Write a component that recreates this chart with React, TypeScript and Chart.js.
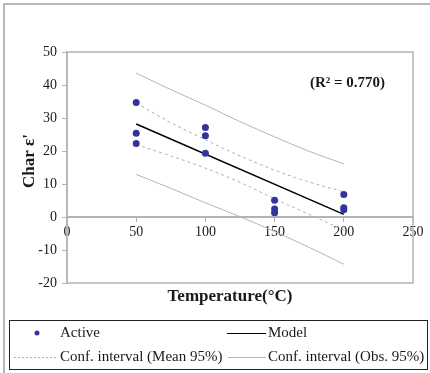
import React, { useEffect, useRef } from "react";
import { Chart, registerables } from "chart.js";
Chart.register(...registerables);

const temperatures = [50, 50, 50, 100, 100, 100, 150, 150, 150, 200, 200, 200];
const charValues = [34.7, 25.4, 22.3, 27.1, 24.6, 19.3, 5.1, 2.4, 1.3, 6.8, 2.8, 2.2];
const modelX = [50, 200];
const modelY = [28.2, 0.8];
const ciX = [50, 75, 100, 125, 150, 175, 200];
const meanUpper = [34.5, 28.6, 23.4, 18.5, 14.2, 10.6, 7.6];
const meanLower = [21.9, 18.5, 14.8, 10.5, 5.5, 0.8, -4.0];
const obsUpper = [43.6, 38.6, 33.9, 28.9, 24.3, 19.9, 16.1];
const obsLower = [12.9, 8.7, 4.3, 0.1, -4.4, -9.2, -14.3];
const xTickValues = [0, 50, 100, 150, 200, 250];
const yTickValues = [-20, -10, 0, 10, 20, 30, 40, 50];
const xTitle = "Temperature(°C)";
const yTitle = "Char ε'";
const r2Label = "(R² = 0.770)";
const legendLabels = ["Active", "Model", "Conf. interval (Mean 95%)", "Conf. interval (Obs. 95%)"];

const SERIF = "'Liberation Serif', 'Times New Roman', serif";
const DOT = "#333399";
const GRAY = "#b4b4b4";
const DASHGRAY = "#b0b0b0";

const pts = (xs: number[], ys: number[]) => xs.map((x, i) => ({ x, y: ys[i] }));

const decor = {
  id: "decor",
  afterDraw(chart: any) {
    const ctx = chart.ctx as CanvasRenderingContext2D;
    const a = chart.chartArea;
    ctx.save();
    // outer frame
    ctx.strokeStyle = "#b8b8b8";
    ctx.lineWidth = 2;
    ctx.strokeRect(4, 4, 440, 400);
    // plot box
    ctx.strokeStyle = GRAY;
    ctx.lineWidth = 1.5;
    ctx.strokeRect(a.left, a.top, a.right - a.left, a.bottom - a.top);
    // texts
    ctx.fillStyle = "#1a1a1a";
    ctx.font = `bold 15px ${SERIF}`;
    ctx.textBaseline = "middle";
    ctx.textAlign = "left";
    ctx.fillText(r2Label, 310, 83);
    ctx.font = `bold 17px ${SERIF}`;
    ctx.textAlign = "center";
    ctx.fillText(xTitle, 230, 297);
    ctx.save();
    ctx.translate(30, 161);
    ctx.rotate(-Math.PI / 2);
    ctx.fillText(yTitle, 0, 0);
    ctx.restore();
    // legend
    ctx.strokeStyle = "#222";
    ctx.lineWidth = 1;
    ctx.strokeRect(9.5, 320.5, 418, 49);
    ctx.font = `15px ${SERIF}`;
    ctx.textAlign = "left";
    const r1 = 333, r2 = 357;
    ctx.fillStyle = DOT;
    ctx.beginPath();
    ctx.arc(37, r1, 2.5, 0, Math.PI * 2);
    ctx.fill();
    ctx.fillStyle = "#1a1a1a";
    ctx.fillText(legendLabels[0], 60, r1);
    ctx.strokeStyle = "#000";
    ctx.lineWidth = 1.2;
    ctx.beginPath();
    ctx.moveTo(227, r1 + 0.5);
    ctx.lineTo(266, r1 + 0.5);
    ctx.stroke();
    ctx.fillText(legendLabels[1], 268, r1);
    ctx.strokeStyle = DASHGRAY;
    ctx.lineWidth = 1;
    ctx.setLineDash([2, 2]);
    ctx.beginPath();
    ctx.moveTo(14, r2 + 0.5);
    ctx.lineTo(57, r2 + 0.5);
    ctx.stroke();
    ctx.setLineDash([]);
    ctx.fillText(legendLabels[2], 60, r2);
    ctx.strokeStyle = GRAY;
    ctx.beginPath();
    ctx.moveTo(228, r2 + 0.5);
    ctx.lineTo(266, r2 + 0.5);
    ctx.stroke();
    ctx.fillText(legendLabels[3], 268, r2);
    ctx.restore();
  },
};

export default function App() {
  const ref = useRef<HTMLCanvasElement | null>(null);
  useEffect(() => {
    if (!ref.current) return;
    const chart = new Chart(ref.current, {
      type: "scatter",
      data: {
        datasets: [
          {
            label: legendLabels[0],
            data: pts(temperatures, charValues),
            backgroundColor: DOT,
            borderColor: DOT,
            pointRadius: 3.5,
            pointBorderWidth: 0,
          },
          {
            label: legendLabels[1],
            data: pts(modelX, modelY),
            showLine: true,
            borderColor: "#000",
            borderWidth: 1.5,
            pointRadius: 0,
          },
          {
            label: "meanUpper",
            data: pts(ciX, meanUpper),
            showLine: true,
            borderColor: DASHGRAY,
            borderWidth: 1,
            borderDash: [3, 3],
            cubicInterpolationMode: "monotone",
            pointRadius: 0,
          },
          {
            label: "meanLower",
            data: pts(ciX, meanLower),
            showLine: true,
            borderColor: DASHGRAY,
            borderWidth: 1,
            borderDash: [3, 3],
            cubicInterpolationMode: "monotone",
            pointRadius: 0,
          },
          {
            label: "obsUpper",
            data: pts(ciX, obsUpper),
            showLine: true,
            borderColor: GRAY,
            borderWidth: 1,
            cubicInterpolationMode: "monotone",
            pointRadius: 0,
          },
          {
            label: "obsLower",
            data: pts(ciX, obsLower),
            showLine: true,
            borderColor: GRAY,
            borderWidth: 1,
            cubicInterpolationMode: "monotone",
            pointRadius: 0,
          },
        ],
      },
      options: {
        animation: false,
        responsive: false,
        devicePixelRatio: 1,
        layout: { padding: { left: 0, top: 52, right: 17, bottom: 90 } },
        plugins: { legend: { display: false }, tooltip: { enabled: false } },
        scales: {
          x: {
            type: "linear",
            min: 0,
            max: 250,
            position: { y: 0 } as any,
            afterBuildTicks: (s: any) => {
              s.ticks = xTickValues.map((v) => ({ value: v }));
            },
            ticks: {
              autoSkip: false,
              maxRotation: 0,
              padding: 3,
              color: "#1a1a1a",
              font: { family: SERIF, size: 14 },
            },
            grid: { drawOnChartArea: false, drawTicks: true, tickLength: 4, color: GRAY, lineWidth: 1 },
            border: { color: GRAY, width: 2 },
          },
          y: {
            type: "linear",
            min: -20,
            max: 50,
            afterBuildTicks: (s: any) => {
              s.ticks = yTickValues.map((v) => ({ value: v }));
            },
            afterFit: (s: any) => {
              s.width = 67;
            },
            ticks: {
              padding: 5,
              color: "#1a1a1a",
              font: { family: SERIF, size: 14 },
            },
            grid: { drawOnChartArea: false, drawTicks: true, tickLength: 5, color: GRAY, lineWidth: 1 },
            border: { color: GRAY, width: 1.5 },
          },
        },
      },
      plugins: [decor],
    });
    return () => chart.destroy();
  }, []);
  return (
    <div style={{ position: "fixed", left: 0, top: 0, width: 430, height: 373, background: "#fff" }}>
      <canvas ref={ref} width={430} height={373} style={{ width: 430, height: 373, display: "block" }} />
    </div>
  );
}
